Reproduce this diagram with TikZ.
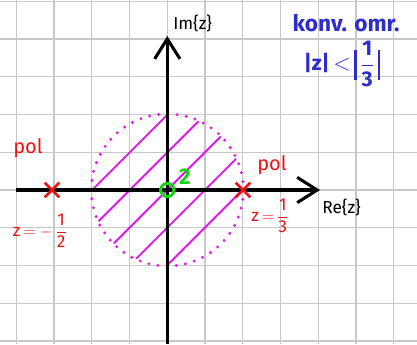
\documentclass[tikz,border=0pt]{standalone}
\usepackage{amsmath}
\usepackage{fontspec}
\setmainfont{Fira Sans}
\usetikzlibrary{arrows.meta,positioning,shapes.misc}
\definecolor{penblue}{RGB}{45,45,205}
\definecolor{penred}{RGB}{235,20,20}
\definecolor{penpink}{RGB}{225,20,235}
\definecolor{pengreen}{RGB}{20,215,20}
\definecolor{gridgray}{RGB}{200,200,200}
\newcommand{\hfr}[2]{\ensuremath{\dfrac{\text{#1}}{\text{#2}}}}
\newcommand{\tallbar}{\rule[-7pt]{1.6pt}{23pt}}

\begin{document}
\begin{tikzpicture}[
			x=0.75pt, y=-0.75pt,
			axis/.style={-{Straight Barb[length=15pt,width=19pt]}, line width=2.3pt},
			hatch/.style={penpink, line width=1.4pt},
			rim/.style={penpink, line width=2.4pt, line cap=round, dash pattern=on 0pt off 6.9pt},
			polmark/.style={cross out, draw=penred, line width=2pt, minimum size=9pt, inner sep=0pt},
			zeromark/.style={circle, draw=pengreen, line width=2.2pt, minimum size=10pt, inner sep=0pt},
			redtxt/.style={text=penred, font=\fontsize{13}{14}\selectfont, inner sep=0pt},
			bluetxt/.style={text=penblue, font=\fontsize{17}{18}\selectfont\bfseries, inner sep=0pt}
			]
			\useasboundingbox (0,0) rectangle (417,344);
			% grid paper
			\foreach \i in {-1,...,10}
				\draw[gridgray, line width=0.9pt] (16.3+37.75*\i,0) -- (16.3+37.75*\i,344);
			\foreach \j in {-5,...,4}
				\draw[gridgray, line width=0.9pt] (0,190+37.75*\j) -- (417,190+37.75*\j);
			% region of convergence
			\begin{scope}
				\clip (167.3,190) circle (75.5);
				\foreach \k in {-2,...,2}
					\draw[hatch] (167.3+18.8*\k-110,190+18.8*\k+110) -- (167.3+18.8*\k+110,190+18.8*\k-110);
			\end{scope}
			\draw[rim] (167.3,190) circle (76);
			% axes
			\coordinate (xs) at (16,190);
			\coordinate (xe) at (320,190);
			\coordinate (ys) at (167.3,344);
			\coordinate (ye) at (167.3,36);
			\draw[axis] (xs) -- (xe);
			\draw[axis] (ys) -- (ye);
			\node[anchor=west, inner sep=0pt, font=\fontsize{13}{14}\selectfont] (re) at (322,207) {Re\{z\}};
			\node[anchor=west, inner sep=0pt, font=\fontsize{13}{14}\selectfont] (im) at (173,23) {Im\{z\}};
			% poles and zero
			\node[polmark] (p1) at (52,190) {};
			\node[polmark] (p2) at (243,190) {};
			\node[zeromark] (nul) at (167.3,190) {};
			\node[text=pengreen, font=\fontsize{17}{18}\selectfont\bfseries, inner sep=0pt] (ord) at (185,177) {2};
			\node[text=penred, font=\fontsize{15}{16}\selectfont, inner sep=0pt] (pol1) at (28,148) {pol};
			\node[redtxt] (z1) at (40,231) {z\,$=-$\,\hfr{1}{2}};
			\node[text=penred, font=\fontsize{15}{16}\selectfont, inner sep=0pt] (pol2) at (272,165) {pol};
			\node[redtxt] (z2) at (270,216) {z\,$=$\,\hfr{1}{3}};
			% convergence note
			\node[bluetxt] (konv) at (346,23) {konv. omr.};
			\node[bluetxt, font=\fontsize{16}{17}\selectfont\bfseries] (abs) at (342,64) {|z|\,$<$\,\tallbar\,\hfr{1}{3}\,\tallbar};
		\end{tikzpicture}
\end{document}
